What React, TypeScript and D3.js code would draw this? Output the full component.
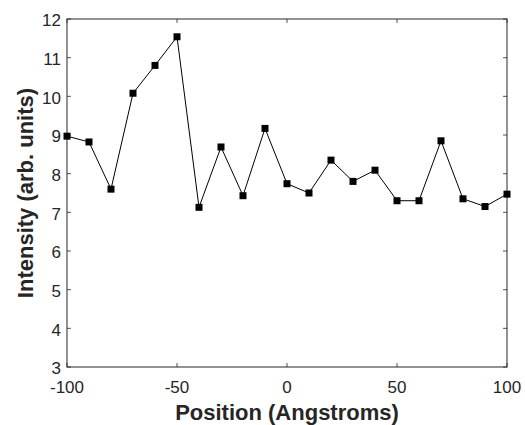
import React from "react";
import * as d3 from "d3";

const positions = [-100, -90, -80, -70, -60, -50, -40, -30, -20, -10, 0, 10, 20, 30, 40, 50, 60, 70, 80, 90, 100];
const intensities = [8.97, 8.82, 7.6, 10.08, 10.8, 11.54, 7.13, 8.69, 7.43, 9.17, 7.74, 7.5, 8.35, 7.8, 8.09, 7.3, 7.3, 8.85, 7.35, 7.15, 7.47];
const xTicks = [-100, -50, 0, 50, 100];
const yTicks = [3, 4, 5, 6, 7, 8, 9, 10, 11, 12];

const W = 525, H = 425;
const M = { left: 67, right: 507, top: 19, bottom: 367 };

export default function App() {
  const x = d3.scaleLinear().domain([-100, 100]).range([M.left, M.right]);
  const y = d3.scaleLinear().domain([3, 12]).range([M.bottom, M.top]);
  const data = positions.map((p, i) => ({ p, v: intensities[i] }));
  const line = d3.line<{ p: number; v: number }>().x(d => x(d.p)).y(d => y(d.v));
  const axisColor = "#262626";
  const font = "Arial, 'Liberation Sans', sans-serif";
  const tl = 4;
  const ms = 7;
  return (
    <svg width={W} height={H} style={{ position: "absolute", left: 0, top: 0, background: "#fff" }}>
      <rect x={0} y={0} width={W} height={H} fill="#fff" />
      {xTicks.map(t => (
        <g key={"xt" + t}>
          <line x1={x(t)} x2={x(t)} y1={M.bottom} y2={M.bottom - tl} stroke={axisColor} strokeWidth={0.8} />
          <line x1={x(t)} x2={x(t)} y1={M.top} y2={M.top + tl} stroke={axisColor} strokeWidth={0.8} />
          <text x={x(t)} y={392.5} textAnchor="middle" fontFamily={font} fontSize={17} fill={axisColor}>{t}</text>
        </g>
      ))}
      {yTicks.map(t => (
        <g key={"yt" + t}>
          <line x1={M.left} x2={M.left + tl} y1={y(t)} y2={y(t)} stroke={axisColor} strokeWidth={0.8} />
          <line x1={M.right} x2={M.right - tl} y1={y(t)} y2={y(t)} stroke={axisColor} strokeWidth={0.8} />
          <text x={61} y={y(t)} dy="0.43em" textAnchor="end" fontFamily={font} fontSize={17} fill={axisColor}>{t}</text>
        </g>
      ))}
      <rect x={M.left} y={M.top} width={M.right - M.left} height={M.bottom - M.top} fill="none" stroke={axisColor} strokeWidth={1} />
      <path d={line(data) || ""} fill="none" stroke="#000" strokeWidth={1} />
      {data.map(d => (
        <rect key={d.p} x={x(d.p) - ms / 2} y={y(d.v) - ms / 2} width={ms} height={ms} fill="#000" />
      ))}
      <text x={(M.left + M.right) / 2} y={420} textAnchor="middle" fontFamily={font} fontSize={22} fontWeight="bold" fill={axisColor}>Position (Angstroms)</text>
      <text transform={`translate(33,${(M.top + M.bottom) / 2}) rotate(-90)`} textAnchor="middle" fontFamily={font} fontSize={22} fontWeight="bold" fill={axisColor}>Intensity (arb. units)</text>
    </svg>
  );
}
